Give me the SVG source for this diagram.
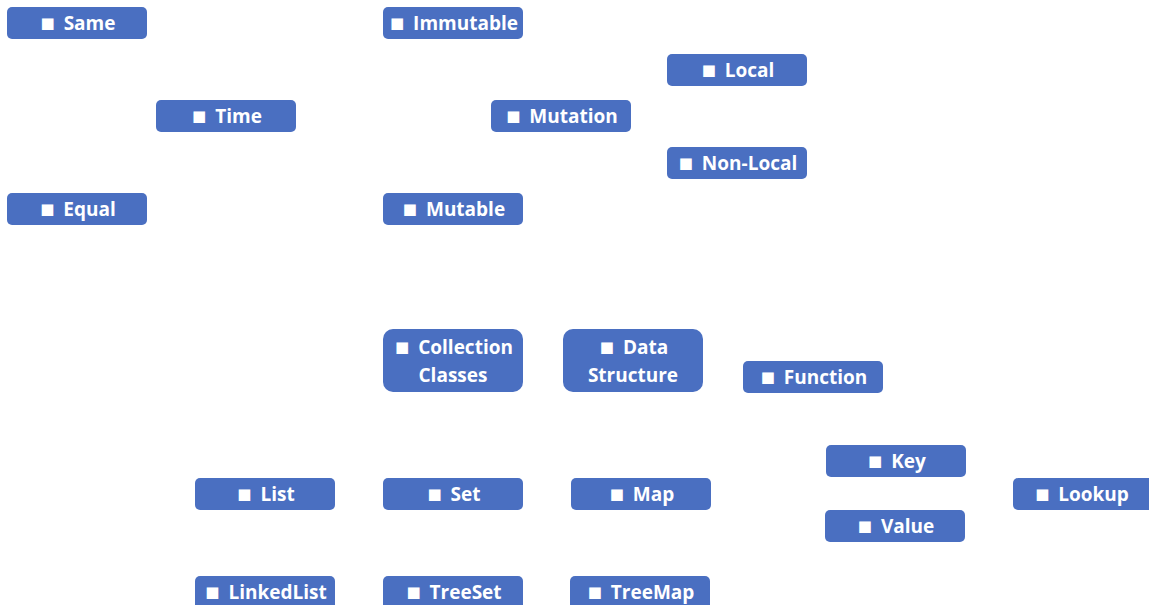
<svg xmlns="http://www.w3.org/2000/svg" width="1149" height="605" viewBox="0 0 1149 605">
<style>
.n rect{fill:#4A6FC1;}
.n text{fill:#fff;font-family:"Open Sans","Liberation Sans",sans-serif;font-weight:bold;font-size:19px;text-anchor:middle;}
.b{font-family:"DejaVu Sans",sans-serif;font-size:15px;baseline-shift:2px;}
</style>
<rect width="1149" height="605" fill="#fff"/>
<g id="connectors"></g>
<g id="same" class="n"><rect x="7" y="7" width="140" height="32" rx="5"/><text x="78" y="30"><tspan class="b">■</tspan><tspan dx="4"> Same</tspan></text></g>
<g id="immutable" class="n"><rect x="383" y="7" width="140" height="32" rx="5"/><text x="454" y="30"><tspan class="b">■</tspan><tspan dx="4"> Immutable</tspan></text></g>
<g id="local" class="n"><rect x="667" y="54" width="140" height="32" rx="5"/><text x="738" y="77"><tspan class="b">■</tspan><tspan dx="4"> Local</tspan></text></g>
<g id="time" class="n"><rect x="156" y="100" width="140" height="32" rx="5"/><text x="227" y="123"><tspan class="b">■</tspan><tspan dx="4"> Time</tspan></text></g>
<g id="mutation" class="n"><rect x="491" y="100" width="140" height="32" rx="5"/><text x="562" y="123"><tspan class="b">■</tspan><tspan dx="4"> Mutation</tspan></text></g>
<g id="nonlocal" class="n"><rect x="667" y="147" width="140" height="32" rx="5"/><text x="738" y="170"><tspan class="b">■</tspan><tspan dx="4"> Non-Local</tspan></text></g>
<g id="equal" class="n"><rect x="7" y="193" width="140" height="32" rx="5"/><text x="78" y="216"><tspan class="b">■</tspan><tspan dx="4"> Equal</tspan></text></g>
<g id="mutable" class="n"><rect x="383" y="193" width="140" height="32" rx="5"/><text x="454" y="216"><tspan class="b">■</tspan><tspan dx="4"> Mutable</tspan></text></g>
<g id="collection" class="n"><rect x="383" y="329" width="140" height="63" rx="10"/><text x="454" y="354"><tspan class="b">■</tspan><tspan dx="4"> Collection</tspan></text><text x="453" y="382">Classes</text></g>
<g id="datastructure" class="n"><rect x="563" y="329" width="140" height="63" rx="10"/><text x="634" y="354"><tspan class="b">■</tspan><tspan dx="4"> Data</tspan></text><text x="633" y="382">Structure</text></g>
<g id="function" class="n"><rect x="743" y="361" width="140" height="32" rx="5"/><text x="814" y="384"><tspan class="b">■</tspan><tspan dx="4"> Function</tspan></text></g>
<g id="key" class="n"><rect x="826" y="445" width="140" height="32" rx="5"/><text x="897" y="468"><tspan class="b">■</tspan><tspan dx="4"> Key</tspan></text></g>
<g id="list" class="n"><rect x="195" y="478" width="140" height="32" rx="5"/><text x="266" y="501"><tspan class="b">■</tspan><tspan dx="4"> List</tspan></text></g>
<g id="set" class="n"><rect x="383" y="478" width="140" height="32" rx="5"/><text x="454" y="501"><tspan class="b">■</tspan><tspan dx="4"> Set</tspan></text></g>
<g id="map" class="n"><rect x="571" y="478" width="140" height="32" rx="5"/><text x="642" y="501"><tspan class="b">■</tspan><tspan dx="4"> Map</tspan></text></g>
<g id="lookup" class="n"><rect x="1013" y="478" width="140" height="32" rx="5"/><text x="1082" y="501"><tspan class="b">■</tspan><tspan dx="4"> Lookup</tspan></text></g>
<g id="value" class="n"><rect x="825" y="510" width="140" height="32" rx="5"/><text x="896" y="533"><tspan class="b">■</tspan><tspan dx="4"> Value</tspan></text></g>
<g id="linkedlist" class="n"><rect x="195" y="576" width="140" height="36" rx="5"/><text x="266" y="599"><tspan class="b">■</tspan><tspan dx="4"> LinkedList</tspan></text></g>
<g id="treeset" class="n"><rect x="383" y="576" width="140" height="36" rx="5"/><text x="454" y="599"><tspan class="b">■</tspan><tspan dx="4"> TreeSet</tspan></text></g>
<g id="treemap" class="n"><rect x="570" y="576" width="140" height="36" rx="5"/><text x="641" y="599"><tspan class="b">■</tspan><tspan dx="4"> TreeMap</tspan></text></g>
</svg>
